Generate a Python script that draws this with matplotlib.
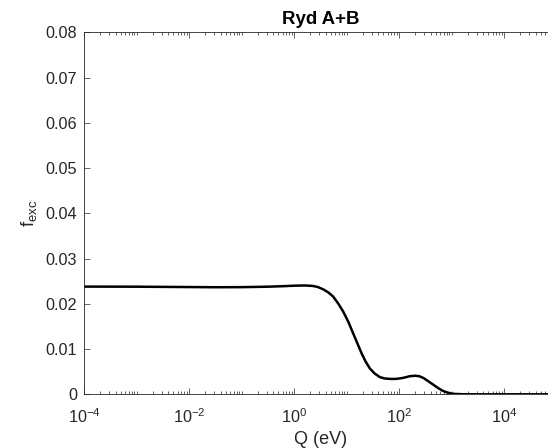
import numpy as np
import matplotlib
matplotlib.use("Agg")
import matplotlib.pyplot as plt
from matplotlib.ticker import FixedLocator, LogLocator, FuncFormatter, LogFormatterSciNotation, NullFormatter

plt.rcParams['font.family'] = ['Liberation Sans', 'DejaVu Sans']
plt.rcParams['mathtext.fontset'] = 'custom'
plt.rcParams['mathtext.rm'] = 'Liberation Sans'
plt.rcParams['mathtext.it'] = 'Liberation Sans:italic'

# data (log10 of Q in eV, and f_exc)
log_q = [-4.0, -3.0, -2.0, -1.5, -1.0, -0.5, -0.2, 0.0, 0.2, 0.35, 0.45, 0.55, 0.65,
         0.74, 0.84, 0.93, 1.03, 1.12, 1.20, 1.28, 1.36, 1.44, 1.53, 1.63, 1.72,
         1.82, 1.92, 2.01, 2.10, 2.20, 2.30, 2.38, 2.46, 2.55, 2.65, 2.75, 2.84,
         2.94, 3.03, 3.2, 3.5, 4.0, 5.0]
f_exc = [0.0238, 0.02378, 0.02370, 0.02366, 0.02368, 0.02378, 0.02390, 0.02400,
         0.02405, 0.02395, 0.0237, 0.0232, 0.0225, 0.0216, 0.0200, 0.0183, 0.0160,
         0.0135, 0.0113, 0.0091, 0.0072, 0.0057, 0.0046, 0.0038, 0.0035, 0.0034,
         0.0034, 0.0035, 0.0037, 0.0040, 0.0041, 0.0040, 0.0036, 0.0029, 0.0021,
         0.0013, 0.0007, 0.0003, 0.0001, 0.00002, 0.0, 0.0, 0.0]
x_major = [1e-4, 1e-2, 1e0, 1e2, 1e4]
y_ticks = [0, 0.01, 0.02, 0.03, 0.04, 0.05, 0.06, 0.07, 0.08]

q = 10.0 ** np.array(log_q)

fig = plt.figure(figsize=(5.48, 4.48), dpi=100)
W, H = 548, 448
left, right, top, bottom = 84.3, 556.8, 32.3, 394.3
ax = fig.add_axes([left / W, 1 - bottom / H, (right - left) / W, (bottom - top) / H])

ax.plot(q, f_exc, color='black', lw=1.8, solid_joinstyle='round')
ax.set_xscale('log')
ax.set_xlim(1e-4, 1e5)
ax.set_ylim(0, 0.08)

tc = '#262626'
ax.xaxis.set_major_locator(FixedLocator(x_major))
ax.xaxis.set_major_formatter(LogFormatterSciNotation())
ax.xaxis.set_minor_locator(LogLocator(base=10, subs=np.arange(1, 10), numticks=50))
ax.xaxis.set_minor_formatter(NullFormatter())
ax.yaxis.set_major_locator(FixedLocator(y_ticks))
ax.yaxis.set_major_formatter(FuncFormatter(lambda v, p: '0' if abs(v) < 1e-12 else f'{v:.2f}'))

ax.tick_params(which='both', direction='in', top=True, right=True, colors=tc,
               labelsize=11.7, width=0.5)
ax.tick_params(which='major', length=4)
ax.tick_params(axis='x', which='major', pad=9)
ax.tick_params(axis='y', which='major', pad=5)
ax.tick_params(which='minor', length=2)
for s in ax.spines.values():
    s.set_color(tc)
    s.set_linewidth(0.6)

ax.set_title('Ryd A+B', fontsize=13.4, fontweight='bold', color='black', pad=6)
ax.set_xlabel('Q (eV)', fontsize=13, color=tc, labelpad=4)
ax.set_ylabel(r'$\mathregular{f_{exc}}$', fontsize=13.5, color=tc, labelpad=5)

fig.savefig('out.png', dpi=100)
